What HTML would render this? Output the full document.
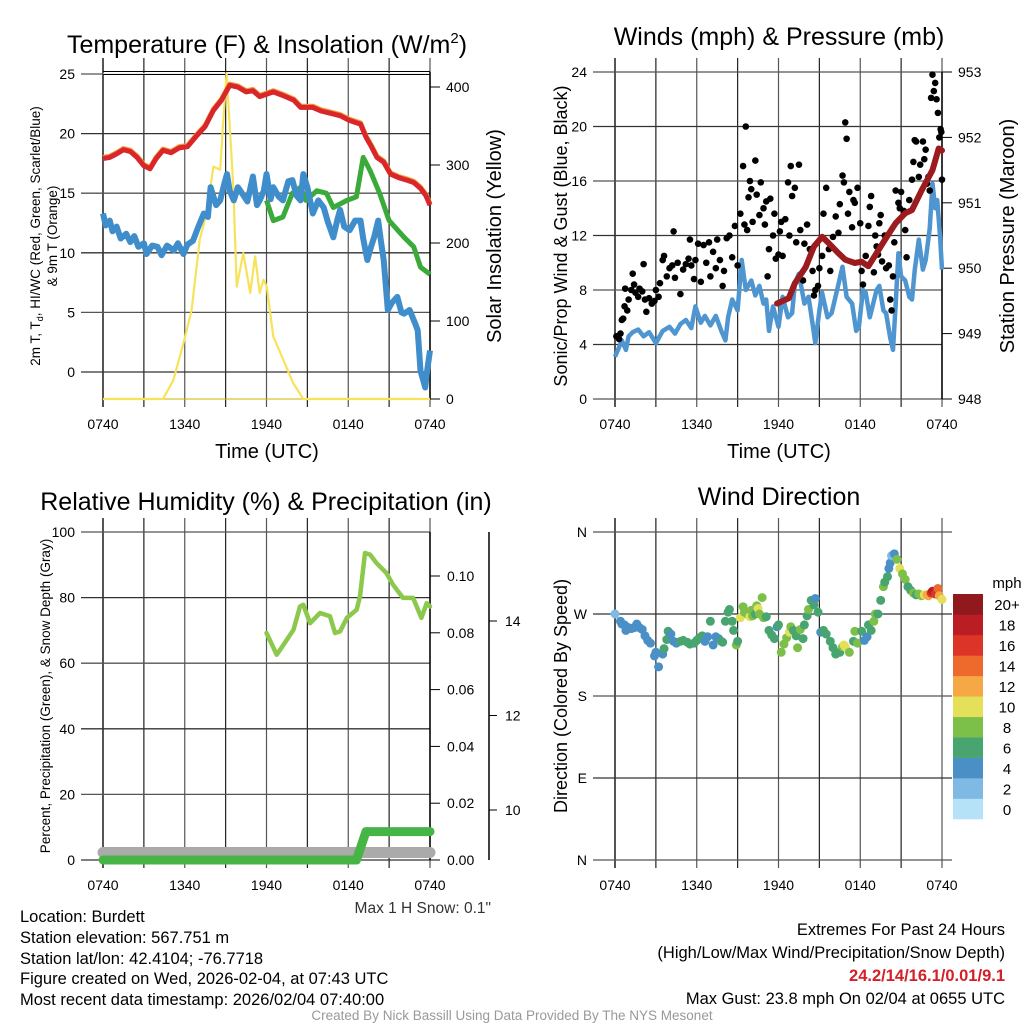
<!DOCTYPE html>
<html><head><meta charset="utf-8">
<style>
html,body{margin:0;padding:0;background:#fff;}
svg{display:block;font-family:"Liberation Sans",sans-serif;}
</style></head>
<body>
<svg id="fig" width="1024" height="1024" viewBox="0 0 1024 1024" xmlns="http://www.w3.org/2000/svg">
<rect width="1024" height="1024" fill="#fff"/>
<g id="g1"></g>
<g id="g2"></g>
<g id="g3"></g>
<g id="g4"></g>
<g id="txt" font-size="16.5" fill="#000">
<text x="20" y="922">Location: Burdett</text>
<text x="20" y="943">Station elevation: 567.751 m</text>
<text x="20" y="964">Station lat/lon: 42.4104; -76.7718</text>
<text x="20" y="984">Figure created on Wed, 2026-02-04, at 07:43 UTC</text>
<text x="20" y="1005">Most recent data timestamp: 2026/02/04 07:40:00</text>
<text x="1005" y="935" text-anchor="end">Extremes For Past 24 Hours</text>
<text x="1005" y="958" text-anchor="end">(High/Low/Max Wind/Precipitation/Snow Depth)</text>
<text x="1005" y="981" text-anchor="end" fill="#d42027" font-weight="bold">24.2/14/16.1/0.01/9.1</text>
<text x="1005" y="1004" text-anchor="end">Max Gust: 23.8 mph On 02/04 at 0655 UTC</text>
<text x="491" y="913" text-anchor="end" fill="#333" font-size="15.5">Max 1 H Snow: 0.1"</text>
<text x="512" y="1020" text-anchor="middle" fill="#999" font-size="13.5">Created By Nick Bassill Using Data Provided By The NYS Mesonet</text>
</g>
</svg>
<script>
// ---------- DATA ----------
const timeTicks = ["0740","1340","1940","0140","0740"];
// Panel 1 (hours since 0740, value)
const tempT = [0,0.5,1,1.5,2,2.5,3,3.45,3.9,4.4,5,5.6,6.2,6.9,7.5,8.1,8.7,9.3,9.9,10.5,11,11.5,12,12.5,13.2,14,14.5,15.4,16,16.7,17.4,18.1,18.9,19.3,19.7,20.1,20.6,21.1,21.7,22.3,22.8,23.3,23.7,24];
const tempV = [17.9,18.0,18.3,18.65,18.5,18.0,17.3,17.05,17.9,18.6,18.4,18.8,18.9,19.85,20.6,21.95,22.8,24.05,23.9,23.5,23.6,23.1,23.3,23.5,23.2,22.8,22.2,22.2,21.9,21.7,21.5,21.1,20.8,19.7,18.9,18.0,17.6,16.6,16.3,16.1,15.9,15.4,14.8,14.0];
const dewT = [0,0.2,0.5,0.7,1,1.3,1.7,2,2.3,2.6,3,3.2,3.6,4,4.3,4.7,5.2,5.5,5.9,6.2,6.6,7,7.4,7.7,7.9,8.3,8.6,8.9,9.1,9.3,9.6,9.9,10.2,10.6,11.0,11.3,11.5,11.8,12.0,12.3,12.5,12.9,13.2,13.6,13.9,14.2,14.5,14.7,15.0,15.4,15.8,16.2,16.5,16.9,17.2,17.4,17.7,18.1,18.5,18.9,19.1,19.4,19.7,19.9,20.2,20.4,20.6,20.9,21.2,21.6,21.9,22.1,22.5,22.9,23.1,23.3,23.5,23.65,23.8,24];
const dewV = [13.3,12.3,12.7,11.8,12.2,11.2,11.6,10.9,11.4,10.5,10.8,9.9,10.6,10.5,9.8,10.6,10.2,10.8,9.9,10.7,11.0,12.2,13.3,13.0,15.5,14.0,14.4,15.8,16.6,15.2,14.4,15.5,15.0,14.3,16.4,14.0,14.4,15.2,16.6,14.5,15.5,14.7,14.4,16.0,16.1,14.8,14.4,16.6,15.5,13.3,14.4,13.8,12.6,11.3,12.8,13.6,12.2,11.9,12.7,12.7,11.2,9.4,10.6,11.3,12.7,11.0,9.4,5.2,5.8,6.3,5.0,4.9,5.2,4.1,3.5,0.1,-0.7,-1.3,0.2,1.8];
const hiT = [12.0,12.5,13.2,13.9,14.5,14.9,15.7,16.4,16.9,17.9,18.6,19.1,19.6,20.3,21.0,22.1,22.8,23.3,24];
const hiV = [14.4,12.7,13.0,15.0,15.5,14.4,15.2,15.0,13.8,14.4,14.7,18.0,16.9,15.0,12.7,11.3,10.5,8.8,8.2];
const solT = [0,4.4,5.16,5.9,6.5,7.1,7.6,8.1,8.6,8.8,9.07,9.56,9.81,10.3,10.8,11.16,11.5,11.78,12.02,12.5,13.24,13.97,14.7,24];
const solV = [0,0,24,71,114,204,238,298,294,350,418,272,144,187,136,183,136,153,144,80,50,20,0,0];
// Panel 2
const windT = [0,0.3,0.5,0.8,1,1.3,1.7,2.1,2.5,3,3.5,4,4.4,4.8,5.2,5.6,5.9,6.3,6.6,7,7.4,7.8,8.1,8.3,8.6,9.0,9.3,9.6,10.0,10.3,10.6,10.9,11.1,11.3,11.6,12.0,12.3,12.7,13.0,13.2,13.5,13.9,14.2,14.5,14.7,15.0,15.2,15.6,15.9,16.3,16.7,17.0,17.4,17.7,17.9,18.2,18.4,18.7,18.9,19.2,19.4,19.7,19.9,20.2,20.4,20.6,20.8,21.0,21.3,21.6,21.8,22.0,22.3,22.6,22.8,23.1,23.3,23.5,23.65,23.85,24];
const windV = [3.1,3.8,4.3,3.6,4.6,4.9,5.1,4.6,4.9,4.1,5.0,5.3,4.8,5.5,5.8,5.2,6.8,5.6,6.1,5.4,6.1,5.0,4.3,6.0,7.3,6.5,10.2,8.0,8.7,7.6,8.3,7.0,7.3,5.0,6.8,5.3,7.5,6.0,6.3,8.5,9.2,7.0,7.5,5.5,4.1,6.5,7.8,6.0,6.3,8.0,9.7,7.5,7.0,5.0,5.3,8.0,7.8,6.0,6.8,8.0,8.3,6.5,6.3,4.5,3.6,7.0,10.7,9.0,8.7,7.5,7.3,9.5,11.7,9.5,10.2,12.5,15.8,14.0,14.6,12.0,9.5];
const gustT = [0.1,0.3,0.4,0.5,0.6,0.7,0.75,0.9,1.0,1.2,1.3,1.4,1.5,1.7,1.8,2.0,2.1,2.2,2.3,2.5,2.7,2.9,3.0,3.2,3.3,3.5,3.6,3.8,4.0,4.2,4.3,4.4,4.6,4.8,5.0,5.2,5.4,5.5,5.6,5.8,5.9,6.1,6.3,6.5,6.7,6.9,7.0,7.2,7.4,7.5,7.7,7.9,8.0,8.2,8.4,8.6,8.8,9.0,9.2,9.4,9.5,9.6,9.7,9.8,9.9,10.0,10.1,10.3,10.4,10.6,10.7,10.9,11.0,11.1,11.2,11.3,11.4,11.6,11.7,11.8,12.0,12.1,12.2,12.3,12.5,12.7,12.8,12.9,13.0,13.2,13.3,13.5,13.6,13.8,13.9,14.1,14.3,14.5,14.6,14.7,14.9,15.0,15.2,15.3,15.5,15.7,15.8,16.0,16.2,16.4,16.5,16.7,16.8,16.9,17.0,17.1,17.2,17.4,17.5,17.6,17.8,18.0,18.1,18.2,18.4,18.6,18.7,18.8,19.0,19.1,19.2,19.3,19.4,19.5,19.6,19.8,19.9,20.1,20.2,20.3,20.4,20.5,20.6,20.8,20.9,21.0,21.2,21.3,21.4,21.6,21.8,21.9,22.0,22.1,22.3,22.4,22.6,22.7,22.8,22.9,23.0,23.1,23.2,23.3,23.4,23.5,23.6,23.7,23.8,23.9,23.95,24.0];
const gustV = [4.6,4.4,4.8,5.8,5.9,6.8,8.1,6.5,7.3,8.0,9.2,8.4,7.8,7.5,8.1,7.9,9.9,7.3,6.4,7.4,7.0,7.2,8.0,7.5,8.5,10.2,10.5,9.0,9.6,9.8,12.3,8.9,10.0,7.7,9.5,9.9,10.3,11.7,9.8,8.8,10.2,11.4,8.6,11.3,10.0,11.5,9.0,10.8,9.6,11.7,10.2,8.3,9.4,11.8,12.0,10.4,12.7,9.8,13.6,17.1,12.8,20.0,12.4,14.8,16.0,15.4,13.0,17.5,15.0,13.5,15.9,14.0,12.8,14.5,9.0,11.0,14.7,12.0,13.6,10.3,10.6,12.3,13.0,10.5,13.2,15.9,12.0,17.1,14.9,15.5,11.5,17.2,12.4,8.7,11.4,12.8,11.0,9.4,7.6,8.0,8.3,9.6,10.5,13.6,15.5,11.0,9.4,11.9,13.4,12.2,14.3,16.4,15.9,20.3,19.1,13.6,15.2,12.6,14.6,14.4,15.5,12.9,9.4,8.4,10.5,12.7,14.1,14.9,9.3,12.0,11.2,10.6,12.9,13.5,10.1,12.0,9.6,9.8,7.3,6.5,9.0,11.5,15.3,14.4,14.0,15.2,13.8,12.4,10.4,14.6,16.1,17.4,19.0,18.9,16.3,17.2,18.9,17.6,18.3,15.8,16.3,15.3,22.1,23.8,22.6,23.2,22.0,21.0,19.2,19.8,19.6,16.1];
const presT = [11.9,12.75,13.2,14.0,14.6,15.2,15.7,16.4,16.9,17.6,18.1,18.6,19.35,20.1,20.6,21.3,21.8,22.5,23.3,23.76,24];
const presV = [949.46,949.54,949.77,950.02,950.33,950.48,950.38,950.23,950.13,950.08,950.10,950.03,950.28,950.53,950.69,950.84,950.89,951.19,951.50,951.83,951.8];
// Panel 3
const rhT = [12.0,12.75,13.25,13.98,14.46,14.7,15.2,15.93,16.66,17.03,17.4,17.9,18.62,18.86,19.23,19.6,20.08,20.8,21.29,22.02,22.76,23.37,23.76,24];
const rhV = [69.2,62.6,65.6,70.2,77.3,77.8,72.2,75.3,74.3,69.2,69.7,73.8,76.3,80.4,93.6,93.1,90.5,87.5,83.9,79.9,79.9,73.8,78.3,77.3];
const precipT = [0,18.6,19.3,24];
const precipV = [0,0,0.01,0.01];
const snowT = [0,24];
const snowV = [9.1,9.1];
// Panel 4 (hours, degrees, mph)
const dirT = [0,0.4,0.5,0.7,0.8,1.0,1.2,1.4,1.6,1.8,2.0,2.2,2.4,2.6,2.9,3.0,3.2,3.5,3.6,3.8,3.9,4.1,4.3,4.5,4.8,5.0,5.3,5.5,5.8,6.0,6.2,6.4,6.6,6.8,7.0,7.2,7.4,7.6,7.8,7.9,8.1,8.3,8.4,8.6,8.7,8.9,9.0,9.2,9.4,9.5,9.7,9.9,10.0,10.1,10.3,10.4,10.5,10.6,10.8,10.9,11.1,11.3,11.5,11.7,11.9,12.0,12.2,12.4,12.6,12.8,12.9,13.1,13.3,13.4,13.6,13.8,13.9,14.1,14.2,14.4,14.6,14.7,14.9,15.1,15.3,15.5,15.8,16.0,16.2,16.5,16.7,16.8,16.9,17.2,17.5,17.6,17.8,18.1,18.3,18.5,18.6,18.8,19.0,19.1,19.3,19.5,19.7,19.8,20.0,20.1,20.2,20.3,20.5,20.7,20.9,21.1,21.3,21.5,21.7,21.9,22.1,22.3,22.5,22.7,22.9,23.0,23.2,23.3,23.5,23.7,23.8,24.0];
const dirD = [270,262,259,258,252,255,254,255,259,255,253,246,241,238,224,228,212,226,232,242,251,248,240,238,240,241,239,237,238,241,244,246,240,245,262,236,245,243,240,239,262,272,275,262,252,236,240,266,278,272,270,267,274,268,270,279,276,270,288,266,267,252,247,243,256,258,228,237,244,250,256,252,246,233,253,243,258,268,275,285,280,287,272,250,252,248,240,233,226,228,234,236,234,228,240,251,238,251,241,245,258,252,262,270,270,285,300,305,311,320,326,334,336,330,320,314,308,300,296,293,291,292,290,291,291,290,293,295,292,298,290,286,284,282];
const dirS = [2,4,4,4,4,4,4,4,4,4,4,4,4,4,4,5,4,5,7,7,6,5,5,5,6,6,6,6,6,6,6,7,5,4,6,5,4,5,6,7,7,6,7,6,7,8,6,10,8,9,8,11,9,9,7,8,10,9,8,8,6,6,7,7,4,6,8,9,8,11,9,7,7,8,8,6,7,7,8,7,7,4,6,5,6,6,6,6,6,6,8,10,10,8,7,8,8,6,5,4,7,7,8,8,7,7,8,7,6,4,4,3,5,9,10,9,8,7,7,8,7,8,9,10,12,13,17,18,16,14,12,11,8];
const dirLabels = ["N","W","S","E","N"];
const cbarLabels = ["0","2","4","6","8","10","12","14","16","18","20+"];
const cbarColors = ["#b5e2f6","#7fbae4","#4a8fc6","#49a56f","#7cc04a","#e5e05a","#f5a843","#ee6a2c","#dc3427","#bb1d25","#8f191c"];

// ---------- HELPERS ----------
const NS="http://www.w3.org/2000/svg";
function mk(parent,tag,attrs){const e=document.createElementNS(NS,tag);for(const k in attrs)e.setAttribute(k,attrs[k]);parent.appendChild(e);return e;}
function txt(parent,x,y,s,size,anchor,extra){const e=mk(parent,"text",Object.assign({x:x,y:y,"font-size":size,"text-anchor":anchor||"middle",fill:"#000"},extra||{}));e.textContent=s;return e;}
const X0=103,X1=430;
function xs(off){return t=>off+X0+t*(X1-X0)/24;}
function lin(d0,d1,p0,p1){return v=>p0+(v-d0)*(p1-p0)/(d1-d0);}
function pathOf(T,V,fx,fy){return T.map((t,i)=>(i?"L":"M")+fx(t).toFixed(1)+","+fy(V[i]).toFixed(1)).join("");}
function frame(g,off,top,bot){
  const x=xs(off);
  for(let i=0;i<=8;i++){const l=mk(g,"line",{x1:x(i*3),x2:x(i*3),y1:top-14,y2:bot+8,stroke:i%2?"#222":"#555","stroke-width":i==0?2:1.2});
    
    }
  timeTicks.forEach((s,i)=>{const e=txt(g,x(i*6),bot+30,s,14);
    
    });
}
function hgrid(g,off,ys,labels,lx){
  ys.forEach((y,i)=>{const l=mk(g,"line",{x1:off+X0-22,x2:off+X1+(lx||0),y1:y,y2:y,stroke:i%2?"#333":"#555","stroke-width":1.3});
    
    
    const e=txt(g,off+X0-28,y+5,labels[i],14,"end");
    
    });
}

// ---------- PANEL 1 ----------
(function(){
const g=document.getElementById("g1");const x=xs(0);
const y=lin(0,25,372,74), yr=lin(0,400,399,87);
frame(g,0,72,399);
const vals=[25,20,15,10,5,0];
hgrid(g,0,vals.map(y),vals.map(String));
mk(g,"line",{x1:X0,x2:X1,y1:74,y2:74,stroke:"#fff","stroke-width":1.3});
mk(g,"line",{x1:X0,x2:X1,y1:74.5,y2:74.5,stroke:"#000","stroke-width":1});
mk(g,"line",{x1:X0,x2:X1,y1:71.5,y2:71.5,stroke:"#000","stroke-width":1});
mk(g,"line",{x1:X1,x2:X1,y1:72,y2:399,stroke:"#000","stroke-width":1.5});
[0,100,200,300,400].forEach(v=>{mk(g,"line",{x1:X1,x2:X1+10,y1:yr(v),y2:yr(v),stroke:"#000"});
  const e=txt(g,X1+16,yr(v)+5,String(v),14,"start");
  
  });
mk(g,"line",{x1:X0,x2:X1,y1:399,y2:399,stroke:"#ccb400","stroke-width":1});
const sol=mk(g,"path",{d:pathOf(solT,solV,x,yr),fill:"none",stroke:"#f7e35a","stroke-width":2.2,"stroke-linejoin":"round"});


const hi=mk(g,"path",{d:pathOf(hiT,hiV,x,y),fill:"none",stroke:"#3aaa3a","stroke-width":5,"stroke-linejoin":"round"});


const dew=mk(g,"path",{d:pathOf(dewT,dewV,x,y),fill:"none",stroke:"#3f8ecb","stroke-width":6,"stroke-linejoin":"round"});


const or=mk(g,"path",{d:pathOf(tempT,tempV.map(v=>v+0.1),x,y),fill:"none",stroke:"#f39a3a","stroke-width":5,"stroke-linejoin":"round"});


const t=mk(g,"path",{d:pathOf(tempT,tempV,x,y),fill:"none",stroke:"#d8262a","stroke-width":5,"stroke-linejoin":"round"});


const ti=mk(g,"text",{x:267,y:53,"font-size":25,"text-anchor":"middle"});ti.innerHTML='Temperature (F) &amp; Insolation (W/m<tspan dy="-10" font-size="15">2</tspan><tspan dy="10">)</tspan>';


const xl=txt(g,267,458,"Time (UTC)",20);


const yl=mk(g,"text",{transform:"translate(40,236) rotate(-90)","font-size":13.5,"text-anchor":"middle"});
yl.innerHTML='2m T, T<tspan dy="3" font-size="9">d</tspan><tspan dy="-3">, HI/WC (Red, Green, Scarlet/Blue)</tspan>';


const yl2=txt(g,0,0,"& 9m T (Orange)",13.5,"middle",{transform:"translate(57,236) rotate(-90)"});


const yr2=txt(g,0,0,"Solar Insolation (Yellow)",20,"middle",{transform:"translate(501,236) rotate(-90)"});


})();

// ---------- PANEL 2 ----------
(function(){
const off=512,g=document.getElementById("g2");const x=xs(off);
const y=lin(0,24,399,72), yp=lin(948,953,399,72);
frame(g,off,72,399);
const vals=[24,20,16,12,8,4,0];
hgrid(g,off,vals.map(y),vals.map(String));
mk(g,"line",{x1:off+X1,x2:off+X1,y1:72,y2:399,stroke:"#000","stroke-width":1.5});
[948,949,950,951,952,953].forEach(v=>{mk(g,"line",{x1:off+X1,x2:off+X1+10,y1:yp(v),y2:yp(v),stroke:"#000"});
  const e=txt(g,off+X1+16,yp(v)+5,String(v),14,"start");
  
  });
const w=mk(g,"path",{d:pathOf(windT,windV,x,y),fill:"none",stroke:"#4f95d0","stroke-width":4.5,"stroke-linejoin":"round"});


gustT.forEach((t,i)=>{const c=mk(g,"circle",{cx:x(t),cy:y(gustV[i]),r:3.3,fill:"#000"});
  
  });
const p=mk(g,"path",{d:pathOf(presT,presV,x,yp),fill:"none",stroke:"#9b1b1e","stroke-width":6,"stroke-linejoin":"round","stroke-linecap":"round"});


const ti=txt(g,779,45,"Winds (mph) & Pressure (mb)",25);


const xl=txt(g,779,458,"Time (UTC)",20);


const yl=txt(g,0,0,"Sonic/Prop Wind & Gust (Blue, Black)",18,"middle",{transform:"translate(567,236) rotate(-90)"});


const yr2=txt(g,0,0,"Station Pressure (Maroon)",20,"middle",{transform:"translate(1014,236) rotate(-90)"});


})();

// ---------- PANEL 3 ----------
(function(){
const g=document.getElementById("g3");const x=xs(0);
const y=lin(0,100,860,532), yp=lin(0,0.1,860,576), ys=lin(10,14,810,621);
frame(g,0,532,860);
const vals=[100,80,60,40,20,0];
hgrid(g,0,vals.map(y),vals.map(String));
mk(g,"line",{x1:X1,x2:X1,y1:532,y2:860,stroke:"#000","stroke-width":1.5});
[0,0.02,0.04,0.06,0.08,0.10].forEach(v=>{mk(g,"line",{x1:X1,x2:X1+10,y1:yp(v),y2:yp(v),stroke:"#000"});
  const e=txt(g,X1+17,yp(v)+5,v.toFixed(2),14,"start");
  
  });
mk(g,"line",{x1:489,x2:489,y1:532,y2:860,stroke:"#000","stroke-width":1.5});
[10,12,14].forEach(v=>{mk(g,"line",{x1:489,x2:497,y1:ys(v),y2:ys(v),stroke:"#000"});
  const e=txt(g,505,ys(v)+5,String(v),14,"start");
  
  });
const sn=mk(g,"path",{d:pathOf(snowT,snowV,x,ys),fill:"none",stroke:"#aaa","stroke-width":11,"stroke-linecap":"round"});


const pr=mk(g,"path",{d:pathOf(precipT,precipV,x,yp),fill:"none",stroke:"#46b546","stroke-width":9,"stroke-linecap":"round","stroke-linejoin":"round"});


const rh=mk(g,"path",{d:pathOf(rhT,rhV,x,y),fill:"none",stroke:"#8cc84b","stroke-width":4.5,"stroke-linejoin":"round","stroke-linecap":"round"});


const ti=txt(g,266,510,"Relative Humidity (%) & Precipitation (in)",25);


const yl=txt(g,0,0,"Percent, Precipitation (Green), & Snow Depth (Gray)",13.5,"middle",{transform:"translate(50,696) rotate(-90)"});


})();

// ---------- PANEL 4 ----------
(function(){
const off=512,g=document.getElementById("g4");const x=xs(off);
const y=lin(0,360,860,532);
frame(g,off,532,860);
hgrid(g,off,[360,270,180,90,0].map(y),dirLabels,10);
function col(s){return cbarColors[Math.min(10,Math.floor(s/2))];}
dirT.forEach((t,i)=>{const c=mk(g,"circle",{cx:x(t),cy:y(dirD[i]),r:4.5,fill:col(dirS[i])});
  
  });
const bh=(819-594)/11;
cbarColors.forEach((c,i)=>{const r=mk(g,"rect",{x:953,y:819-(i+1)*bh,width:30,height:bh+0.3,fill:c});
  
  
  const e=txt(g,1007,819-(i+0.5)*bh+6,cbarLabels[i],15);
  
  });
const u=txt(g,1007,588,"mph",15);


const ti=txt(g,779,505,"Wind Direction",25);


const yl=txt(g,0,0,"Direction (Colored By Speed)",18,"middle",{transform:"translate(567,696) rotate(-90)"});


})();
</script>
</body></html>
